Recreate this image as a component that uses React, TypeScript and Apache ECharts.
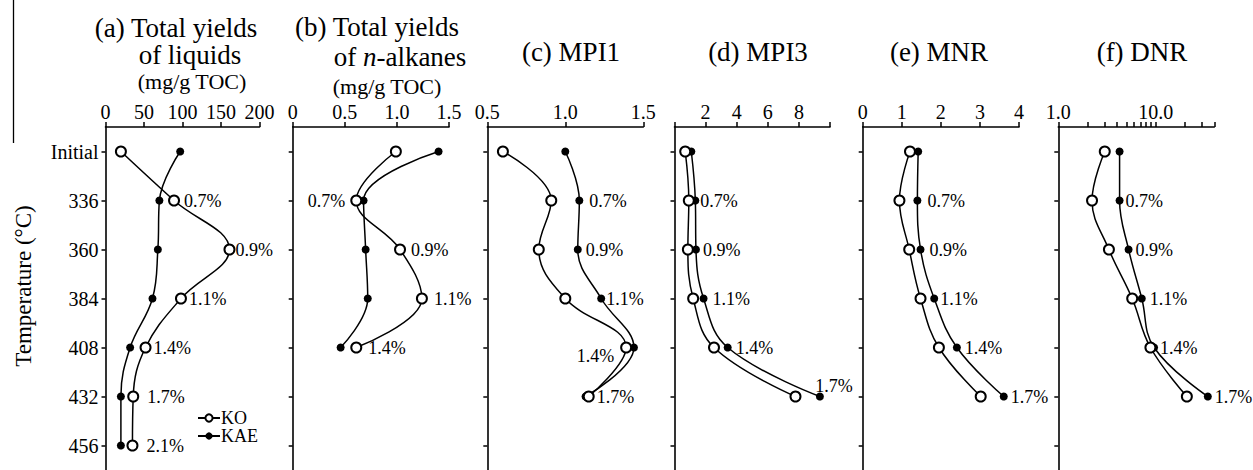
import React, { useEffect, useRef } from 'react';
import * as echarts from 'echarts';

// ---------- data ----------
const temps = ['Initial', '336', '360', '384', '408', '432', '456'];
const vrLabels = ['', '0.7%', '0.9%', '1.1%', '1.4%', '1.7%', '2.1%'];

const liquidsKO = [20, 89, 161, 98, 52, 36, 35];
const liquidsKAE = [97, 70, 68, 61, 32, 20, 20];
const alkanesKO = [0.99, 0.61, 1.03, 1.24, 0.61];
const alkanesKAE = [1.40, 0.68, 0.70, 0.72, 0.46];
const mpi1KO = [0.60, 0.91, 0.83, 1.0, 1.39, 1.15];
const mpi1KAE = [1.0, 1.09, 1.08, 1.23, 1.44, 1.13];
const mpi3KO = [0.69, 0.92, 0.86, 1.2, 2.54, 7.78];
const mpi3KAE = [1.08, 1.34, 1.38, 1.87, 3.42, 9.35];
const mnrKO = [1.21, 0.94, 1.19, 1.48, 1.95, 3.02];
const mnrKAE = [1.42, 1.4, 1.48, 1.83, 2.41, 3.61];
const dnrKO = [3.0, 2.22, 3.31, 5.74, 8.83, 20.9];
const dnrKAE = [4.26, 4.26, 5.27, 7.2, 9.63, 34.3];

const dnrTicks = [1, 2, 3, 4, 5, 6, 7, 8, 9, 10, 20, 30, 40];
const dnrTickLabels = [1, 10];

// ---------- layout / style ----------
const FONT = '"Liberation Serif", "Times New Roman", serif';
const GRID_TOP = 127;
const GRID_H = 344;

type Place = { s: 'KO' | 'KAE'; pos: string; dist: number; off?: [number, number] } | null;

const fmt1 = (v: number) => (v === 0 ? '0' : v.toFixed(1));

const panels: any[] = [
  {
    ko: liquidsKO, kae: liquidsKAE, left: 105.5, width: 154,
    axis: { type: 'value', min: 0, max: 200, interval: 50 },
    places: [null,
      { s: 'KO', pos: 'right', dist: 4 }, { s: 'KO', pos: 'right', dist: 0 },
      { s: 'KO', pos: 'right', dist: 2 }, { s: 'KO', pos: 'right', dist: 2 },
      { s: 'KO', pos: 'right', dist: 8 }, { s: 'KO', pos: 'right', dist: 8 }] as Place[],
  },
  {
    ko: alkanesKO, kae: alkanesKAE, left: 292.7, width: 156.3,
    axis: { type: 'value', min: 0, max: 1.5, interval: 0.5, fmt: fmt1 },
    places: [null,
      { s: 'KO', pos: 'left', dist: 5 }, { s: 'KO', pos: 'right', dist: 5 },
      { s: 'KO', pos: 'right', dist: 6 }, { s: 'KO', pos: 'right', dist: 6 }] as Place[],
  },
  {
    ko: mpi1KO, kae: mpi1KAE, left: 487.3, width: 156,
    axis: { type: 'value', min: 0.5, max: 1.5, interval: 0.5, fmt: fmt1 },
    places: [null,
      { s: 'KAE', pos: 'right', dist: 6 }, { s: 'KAE', pos: 'right', dist: 4 },
      { s: 'KAE', pos: 'right', dist: 1 }, { s: 'KO', pos: 'left', dist: 6, off: [0, 8] },
      { s: 'KO', pos: 'right', dist: 2 }] as Place[],
  },
  {
    ko: mpi3KO, kae: mpi3KAE, left: 674.5, width: 155.5,
    axis: { type: 'value', min: 0, max: 10, interval: 2, fmt: (v: number) => (v === 0 || v === 10 ? '' : String(v)) },
    places: [null,
      { s: 'KAE', pos: 'right', dist: 1 }, { s: 'KAE', pos: 'right', dist: 3 },
      { s: 'KAE', pos: 'right', dist: 5 }, { s: 'KAE', pos: 'right', dist: 4 },
      { s: 'KAE', pos: 'top', dist: 0, off: [14, 2] }] as Place[],
  },
  {
    ko: mnrKO, kae: mnrKAE, left: 862.7, width: 156.3,
    axis: { type: 'value', min: 0, max: 4, interval: 1 },
    places: [null,
      { s: 'KAE', pos: 'right', dist: 6 }, { s: 'KAE', pos: 'right', dist: 5 },
      { s: 'KAE', pos: 'right', dist: 2 }, { s: 'KAE', pos: 'right', dist: 4 },
      { s: 'KAE', pos: 'right', dist: 3 }] as Place[],
  },
  {
    ko: dnrKO, kae: dnrKAE, left: 1058.3, width: 156,
    axis: { type: 'log', logBase: 10, min: 1, max: 40, fmt: (v: number) => v.toFixed(1), log: true },
    places: [null,
      { s: 'KAE', pos: 'right', dist: 2 }, { s: 'KAE', pos: 'right', dist: 3 },
      { s: 'KAE', pos: 'right', dist: 4 }, { s: 'KAE', pos: 'right', dist: 2 },
      { s: 'KAE', pos: 'right', dist: 3 }] as Place[],
  },
];

const titles = [
  { x: 176, y: 28, size: 27, text: '(a) Total yields' },
  { x: 190, y: 55, size: 27, text: 'of liquids' },
  { x: 192, y: 81, size: 22, text: '(mg/g TOC)' },
  { x: 377, y: 27, size: 27, text: '(b) Total yields' },
  { x: 387, y: 86, size: 22, text: '(mg/g TOC)' },
  { x: 571, y: 52, size: 27, text: '(c) MPI1' },
  { x: 758, y: 52, size: 27, text: '(d) MPI3' },
  { x: 939, y: 52, size: 27, text: '(e) MNR' },
  { x: 1142, y: 52, size: 27, text: '(f) DNR' },
];

function buildOption() {
  const blk = '#000';
  const grid = panels.map((p) => ({ left: p.left, width: p.width, top: GRID_TOP, height: GRID_H }));
  const xAxis = panels.map((p, i) => {
    const a = p.axis;
    const base: any = {
      gridIndex: i,
      type: a.type,
      position: 'top',
      min: a.min,
      max: a.max,
      axisLine: { show: true, lineStyle: { color: blk, width: 1.6 } },
      axisTick: { show: true, length: 5, lineStyle: { color: blk, width: 1.5 } },
      axisLabel: { color: blk, fontFamily: FONT, fontSize: 20, margin: 5 },
      splitLine: { show: false },
      minorSplitLine: { show: false },
    };
    if (a.interval !== undefined) base.interval = a.interval;
    if (a.logBase) base.logBase = a.logBase;
    if (a.fmt) base.axisLabel.formatter = a.fmt;
    if (a.log) {
      base.axisTick.customValues = dnrTicks;
      base.axisLabel.customValues = dnrTickLabels;
    }
    return base;
  });
  const yAxis = panels.map((p, i) => ({
    gridIndex: i,
    type: 'category',
    data: temps,
    inverse: true,
    axisLine: { show: true, lineStyle: { color: blk, width: 1.6 } },
    axisTick: { show: true, alignWithLabel: true, length: 4, lineStyle: { color: blk, width: 1.5 } },
    axisLabel: { show: i === 0, color: blk, fontFamily: FONT, fontSize: 20, margin: 7 },
    splitLine: { show: false },
  }));

  const series: any[] = [];
  panels.forEach((p, i) => {
    (['KO', 'KAE'] as const).forEach((name) => {
      const vals: number[] = name === 'KO' ? p.ko : p.kae;
      series.push({
        type: 'line',
        name,
        xAxisIndex: i,
        yAxisIndex: i,
        smooth: 0.4,
        symbol: name === 'KO' ? 'emptyCircle' : 'circle',
        symbolSize: name === 'KO' ? 10 : 8,
        lineStyle: { color: blk, width: 1.5 },
        itemStyle: { color: blk, borderWidth: 1.6 },
        z: name === 'KO' ? 3 : 2,
        data: vals.map((v, j) => {
          const pl: Place = p.places[j] || null;
          const item: any = { value: [v, temps[j]] };
          if (pl && pl.s === name) {
            item.label = {
              show: true,
              formatter: vrLabels[j],
              position: pl.pos,
              distance: pl.dist,
              offset: pl.off || [0, 0],
              color: blk,
              fontFamily: FONT,
              fontSize: 18,
            };
          }
          return item;
        }),
      });
    });
  });

  const graphic: any[] = [
    {
      type: 'text', x: 23, y: 286, rotation: Math.PI / 2,
      style: { text: 'Temperature (°C)', fill: blk, fontFamily: FONT, fontSize: 23, align: 'center', verticalAlign: 'middle' },
    },
    ...titles.map((t) => ({
      type: 'text', x: t.x, y: t.y,
      style: { text: t.text, fill: blk, fontFamily: FONT, fontSize: t.size, align: 'center', verticalAlign: 'middle' },
    })),
    {
      type: 'text', x: 400, y: 57,
      style: {
        text: '{r|of }{i|n}{r|-alkanes}',
        fill: blk, fontFamily: FONT, fontSize: 27, align: 'center', verticalAlign: 'middle',
        rich: {
          r: { fill: blk, fontFamily: FONT, fontSize: 27 },
          i: { fill: blk, fontFamily: FONT, fontSize: 27, fontStyle: 'italic' },
        },
      },
    },
    {
      type: 'polyline',
      shape: { points: [[13.5, 0], [13.5, 143]] },
      style: { stroke: blk, lineWidth: 1.3, fill: null },
    },
  ];

  return {
    animation: false,
    backgroundColor: '#fff',
    grid,
    xAxis,
    yAxis,
    series,
    legend: {
      data: ['KO', 'KAE'],
      orient: 'vertical',
      left: 197,
      top: 409,
      itemWidth: 22,
      itemHeight: 9,
      itemGap: 0,
      padding: 0,
      selectedMode: false,
      textStyle: { fontFamily: FONT, fontSize: 18, lineHeight: 18, color: blk, padding: [0, 0, 0, -4] },
    },
    graphic,
  };
}

export default function App() {
  const ref = useRef<HTMLDivElement>(null);
  useEffect(() => {
    document.body.style.margin = '0';
    if (!ref.current) return;
    const chart = echarts.init(ref.current, null, { renderer: 'svg' });
    chart.setOption(buildOption() as any);
    return () => chart.dispose();
  }, []);
  return <div ref={ref} style={{ width: 1253, height: 470 }} />;
}
